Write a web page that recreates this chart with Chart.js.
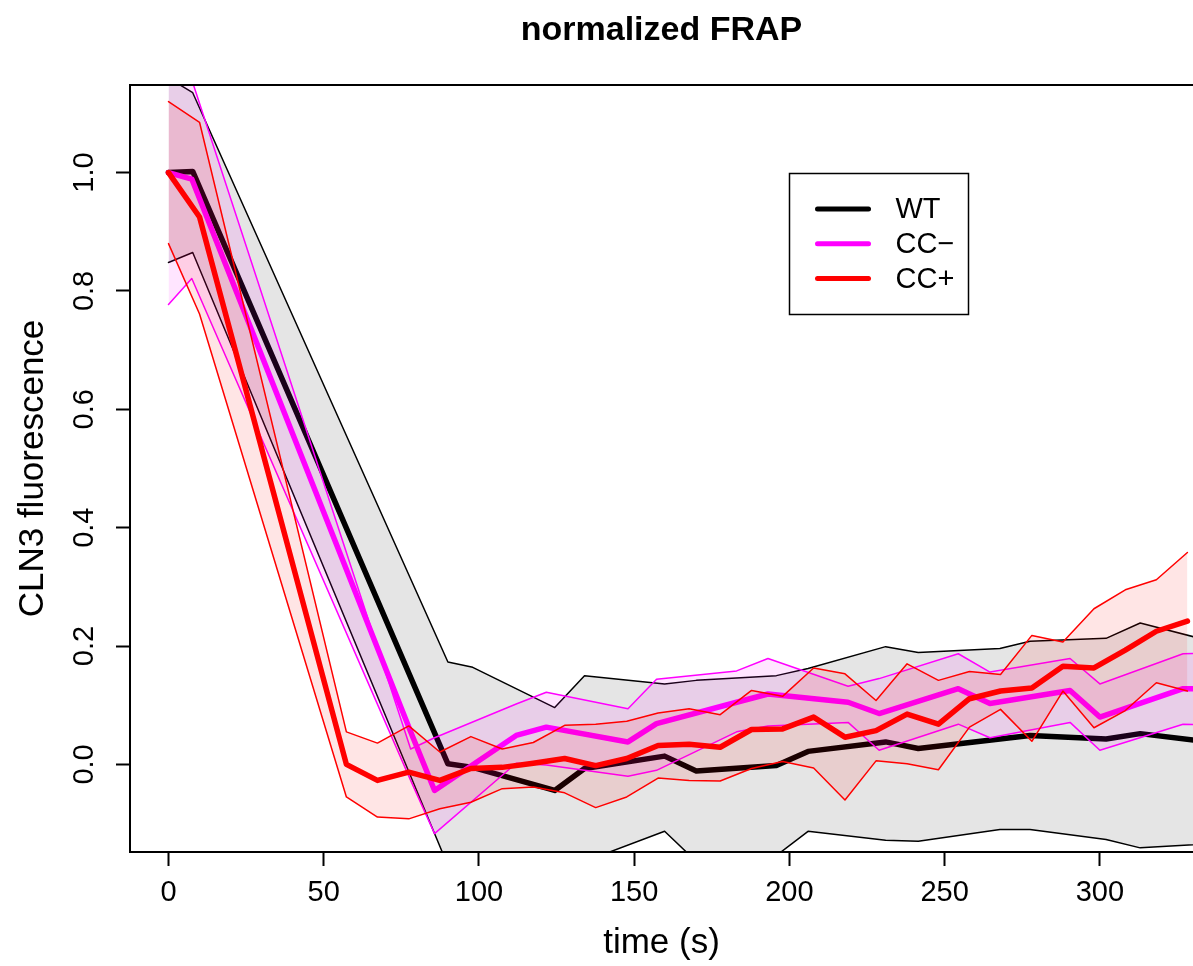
<!DOCTYPE html>
<html>
<head>
<meta charset="utf-8">
<title>normalized FRAP</title>
<script src="https://cdn.jsdelivr.net/npm/chart.js@4.4.1/dist/chart.umd.min.js"></script>
<style>
  html, body { margin: 0; padding: 0; background: #fff; }
  #wrap { width: 1193px; height: 966px; }
</style>
</head>
<body>
<div id="wrap"><canvas id="frapChart" width="1193" height="966"></canvas></div>
<script>
// WT: time (s), mean and band edges
const wtTime  = [0, 7.8, 90, 98, 124.4, 134, 159.8, 170, 195.8, 206, 231, 241.5, 267.8, 277.5, 302, 313, 338];
const wtMean  = [1.0, 1.002, 0.001, -0.005, -0.044, -0.007, 0.014, -0.011, -0.002, 0.022, 0.038, 0.027, 0.043, 0.049, 0.043, 0.052, 0.036];
const wtUpper = [1.16, 1.135, 0.173, 0.164, 0.096, 0.150, 0.136, 0.142, 0.150, 0.162, 0.199, 0.189, 0.196, 0.208, 0.213, 0.239, 0.205];
const wtLower = [0.848, 0.865, -0.171, -0.174, -0.184, -0.164, -0.113, -0.164, -0.154, -0.113, -0.128, -0.130, -0.110, -0.110, -0.127, -0.141, -0.133];

// CC-
const ccMinusTime  = [0, 7.5, 78, 85.7, 112, 121.7, 148, 157.2, 183, 193.1, 218.9, 228.9, 254.4, 264.6, 290.4, 300, 326.8, 336.6];
const ccMinusMean  = [1.0, 0.989, 0.055, -0.044, 0.049, 0.063, 0.038, 0.069, 0.105, 0.119, 0.105, 0.086, 0.128, 0.103, 0.125, 0.080, 0.128, 0.128];
const ccMinusUpper = [1.22, 1.157, 0.026, 0.045, 0.102, 0.122, 0.094, 0.144, 0.158, 0.179, 0.132, 0.145, 0.187, 0.156, 0.179, 0.136, 0.187, 0.188];
const ccMinusLower = [0.777, 0.821, -0.027, -0.117, 0.002, -0.001, -0.020, -0.010, 0.055, 0.065, 0.071, 0.024, 0.068, 0.045, 0.071, 0.024, 0.068, 0.066];

// CC+
const ccPlusTime  = [0, 10, 57.3, 67.3, 77.4, 87.4, 97.4, 107.5, 117.5, 127.6, 137.6, 147.6, 157.7, 167.7, 177.7, 187.8, 197.8, 207.8, 217.9, 227.9, 237.9, 248, 258, 268, 278.1, 288.1, 298.1, 308.2, 318.2, 328.2];
const ccPlusMean  = [1.0, 0.925, 0.0, -0.027, -0.013, -0.027, -0.007, -0.005, 0.002, 0.010, -0.002, 0.010, 0.032, 0.034, 0.029, 0.059, 0.060, 0.080, 0.046, 0.057, 0.085, 0.068, 0.111, 0.124, 0.129, 0.166, 0.163, 0.193, 0.225, 0.242];
const ccPlusUpper = [1.12, 1.085, 0.055, 0.036, 0.065, 0.021, 0.047, 0.026, 0.037, 0.066, 0.068, 0.073, 0.087, 0.094, 0.084, 0.125, 0.115, 0.163, 0.153, 0.108, 0.170, 0.142, 0.157, 0.152, 0.218, 0.207, 0.263, 0.295, 0.312, 0.358];
const ccPlusLower = [0.88, 0.761, -0.055, -0.089, -0.092, -0.075, -0.064, -0.041, -0.038, -0.048, -0.073, -0.055, -0.023, -0.027, -0.028, -0.007, 0.005, -0.006, -0.060, 0.006, 0.001, -0.009, 0.063, 0.093, 0.039, 0.124, 0.062, 0.091, 0.138, 0.124];

// axes and labels
const xTickValues = [0, 50, 100, 150, 200, 250, 300];
const yTickValues = [0.0, 0.2, 0.4, 0.6, 0.8, 1.0];
const seriesNames = ['WT', 'CC\u2212', 'CC+'];
const seriesColors = ['#000000', '#ff00ff', '#ff0000'];
const bandColors = ['rgba(0,0,0,0.1)', 'rgba(255,0,255,0.1)', 'rgba(255,0,0,0.1)'];
const legendAt = [200, 1.0];

const FONT = "'Liberation Sans', Arial, Helvetica, sans-serif";
Chart.defaults.font.family = FONT;
Chart.defaults.color = '#000';

function toPoints(times, values) {
    return times.map((t, i) => ({ x: t, y: values[i] }));
}

// one group = band (upper filled to lower), the two edges, then the mean on top
function buildGroup(times, mean, upper, lower, idx, baseIndex, baseOrder) {
    const color = seriesColors[idx];
    return [
        {
            label: seriesNames[idx] + ' upper',
            data: toPoints(times, upper),
            borderColor: color,
            borderWidth: 1.5,
            backgroundColor: bandColors[idx],
            fill: { target: baseIndex + 1 },
            order: baseOrder
        },
        {
            label: seriesNames[idx] + ' lower',
            data: toPoints(times, lower),
            borderColor: color,
            borderWidth: 1.5,
            fill: false,
            order: baseOrder - 1
        },
        {
            label: seriesNames[idx],
            data: toPoints(times, mean),
            borderColor: color,
            borderWidth: 5.5,
            fill: false,
            order: baseOrder - 2
        }
    ];
}

const datasets = [
    ...buildGroup(wtTime, wtMean, wtUpper, wtLower, 0, 0, 9),
    ...buildGroup(ccMinusTime, ccMinusMean, ccMinusUpper, ccMinusLower, 1, 3, 6),
    ...buildGroup(ccPlusTime, ccPlusMean, ccPlusUpper, ccPlusLower, 2, 6, 3)
];

// plot frame like R's box()
const framePlugin = {
    id: 'frame',
    afterDatasetsDraw(chart) {
        const { ctx, chartArea: a } = chart;
        ctx.save();
        ctx.strokeStyle = '#000';
        ctx.lineWidth = 2;
        ctx.strokeRect(a.left, a.top, a.right - a.left + 20, a.bottom - a.top);
        ctx.restore();
    }
};

// boxed legend placed in data coordinates
const legendPlugin = {
    id: 'boxLegend',
    afterDraw(chart) {
        const { ctx, scales: { x, y } } = chart;
        const left = Math.round(x.getPixelForValue(legendAt[0])) + 0.5;
        const top = Math.round(y.getPixelForValue(legendAt[1])) + 0.5;
        ctx.save();
        ctx.fillStyle = '#fff';
        ctx.fillRect(left, top, 179, 141);
        ctx.strokeStyle = '#000';
        ctx.lineWidth = 1.5;
        ctx.strokeRect(left, top, 179, 141);
        ctx.font = '29px ' + FONT;
        ctx.textBaseline = 'middle';
        ctx.textAlign = 'left';
        seriesNames.forEach((name, i) => {
            const ly = top + 35.5 + i * 34.8;
            ctx.beginPath();
            ctx.lineCap = 'round';
            ctx.lineWidth = 5;
            ctx.strokeStyle = seriesColors[i];
            ctx.moveTo(left + 28, ly);
            ctx.lineTo(left + 79, ly);
            ctx.stroke();
            ctx.fillStyle = '#000';
            ctx.fillText(name, left + 106, ly + 1);
        });
        ctx.restore();
    }
};

const ctx = document.getElementById('frapChart').getContext('2d');
new Chart(ctx, {
    type: 'line',
    data: { datasets },
    options: {
        responsive: false,
        animation: false,
        events: [],
        layout: { padding: 0 },
        elements: {
            point: { radius: 0 },
            line: { tension: 0, borderJoinStyle: 'round', borderCapStyle: 'round' }
        },
        plugins: {
            legend: { display: false },
            tooltip: { enabled: false },
            title: {
                display: true,
                text: 'normalized FRAP',
                fullSize: false,
                color: '#000',
                font: { family: FONT, size: 34, weight: 'bold' },
                padding: { top: 10, bottom: 34.2 }
            }
        },
        scales: {
            x: {
                type: 'linear',
                min: -12.4,
                max: 330.0,
                afterBuildTicks: s => { s.ticks = xTickValues.map(v => ({ value: v })); },
                afterFit: s => { s.height = 114; },
                grid: { drawOnChartArea: false, drawTicks: true, tickLength: 14, tickWidth: 2, tickColor: '#000' },
                border: { display: false },
                ticks: { color: '#000', font: { size: 29 }, padding: 10, maxRotation: 0, autoSkip: false },
                title: { display: true, text: 'time (s)', color: '#000', font: { size: 35 }, padding: { top: 0, bottom: 2 } }
            },
            y: {
                type: 'linear',
                position: 'left',
                min: -0.148,
                max: 1.148,
                afterBuildTicks: s => { s.ticks = yTickValues.map(v => ({ value: v })); },
                afterFit: s => { s.width = 130; },
                grid: { drawOnChartArea: false, drawTicks: true, tickLength: 14, tickWidth: 2, tickColor: '#000' },
                border: { display: false },
                ticks: {
                    color: '#000',
                    font: { size: 29 },
                    padding: 11,
                    minRotation: 90,
                    maxRotation: 90,
                    crossAlign: 'center',
                    autoSkip: false,
                    callback: v => Number(v).toFixed(1)
                },
                title: { display: true, text: 'CLN3 fluorescence', color: '#000', font: { size: 35 }, padding: { top: 12, bottom: 0 } }
            }
        }
    },
    plugins: [framePlugin, legendPlugin]
});
</script>
</body>
</html>
